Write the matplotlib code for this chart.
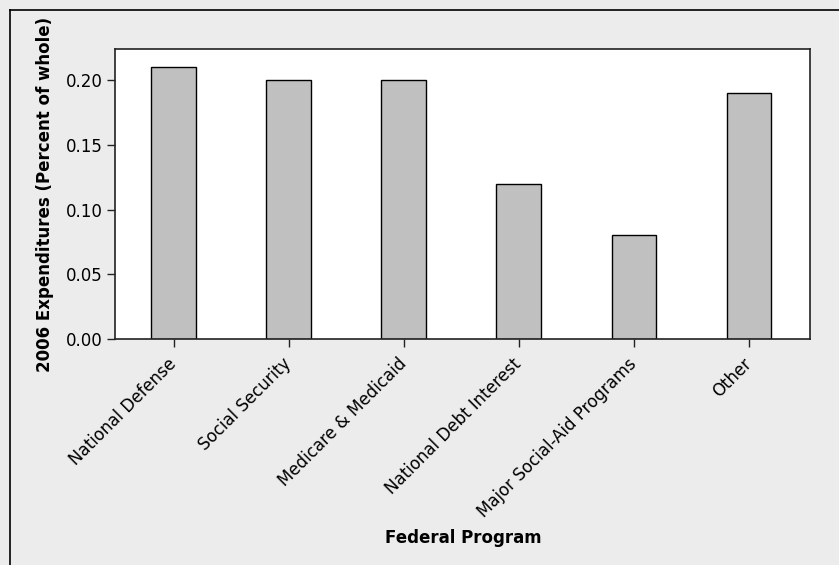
import matplotlib
matplotlib.use("Agg")
import matplotlib.pyplot as plt
from matplotlib.lines import Line2D

# data
programs = ["National Defense", "Social Security", "Medicare & Medicaid",
            "National Debt Interest", "Major Social-Aid Programs", "Other"]
share = [0.21, 0.20, 0.20, 0.12, 0.08, 0.19]
yticks = [0.00, 0.05, 0.10, 0.15, 0.20]

bg = "#ececec"
edge = "#222222"

fig = plt.figure(figsize=(8.39, 5.65), dpi=100, facecolor=bg)
ax = fig.add_axes([115 / 839, 1 - 339 / 565, 695 / 839, 290 / 565])
ax.set_facecolor("white")

x = range(len(programs))
ax.bar(x, share, width=0.39, color="#c0c0c0", edgecolor="black", linewidth=1.0)

ax.set_xlim(-0.51, 5.53)
ax.set_ylim(0, 0.224)
ax.set_yticks(yticks)
ax.set_yticklabels([f"{v:.2f}" for v in yticks], fontsize=12, family="DejaVu Sans")
ax.set_xticks(list(x))
ax.set_xticklabels(programs, rotation=45, ha="right", va="center", rotation_mode="anchor",
                   fontsize=12, family="DejaVu Sans")
ax.tick_params(axis="both", direction="out", length=6, width=1, color=edge, pad=3)
ax.tick_params(axis="x", pad=10)

for s in ax.spines.values():
    s.set_color(edge)
    s.set_linewidth(1.2)

ax.set_ylabel("2006 Expenditures (Percent of whole)", fontsize=12, fontweight="bold",
              family="DejaVu Sans")
ax.yaxis.set_label_coords(-61 / 695, 0.5)
fig.text(463 / 839, 1 - 538 / 565, "Federal Program", ha="center", va="center",
         fontsize=12, fontweight="bold", family="DejaVu Sans")

# frame lines on the top and left edges only
fig.add_artist(Line2D([9.5 / 839, 9.5 / 839], [0, 1 - 9.5 / 565], transform=fig.transFigure,
                      color="black", linewidth=1.2))
fig.add_artist(Line2D([9.5 / 839, 1], [1 - 9.5 / 565, 1 - 9.5 / 565], transform=fig.transFigure,
                      color="black", linewidth=1.2))

fig.savefig("out.png", dpi=100, facecolor=bg)
